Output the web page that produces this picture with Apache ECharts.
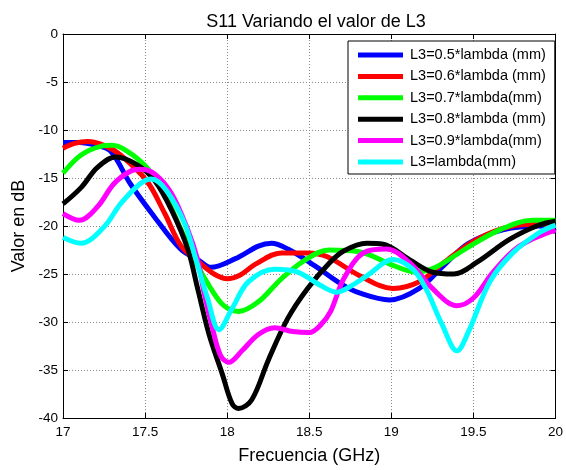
<!DOCTYPE html>
<html>
<head>
<meta charset="utf-8">
<script src="https://cdn.jsdelivr.net/npm/echarts@6/dist/echarts.min.js"></script>
<style>html,body{margin:0;padding:0;background:#fff;}#c{width:566px;height:470px;}</style>
</head>
<body>
<div id="c"></div>
<script>
const titleText = 'S11 Variando el valor de L3';
const xName = 'Frecuencia (GHz)';
const yName = 'Valor en dB';
const seriesNames = ['L3=0.5*lambda (mm)','L3=0.6*lambda (mm)','L3=0.7*lambda(mm)','L3=0.8*lambda (mm)','L3=0.9*lambda(mm)','L3=lambda(mm)'];
const seriesColors = ['#0000ff','#ff0000','#00ff00','#000000','#ff00ff','#00ffff'];

const s05 = [[17,-11.3],[17.1,-11.3],[17.2,-11.6],[17.29,-12.2],[17.41,-15.6],[17.555,-19.0],[17.716,-22.4],[17.83,-23.6],[17.9,-24.3],[18.05,-23.4],[18.19,-22.1],[18.27,-21.8],[18.37,-22.4],[18.53,-24.1],[18.69,-26.0],[18.81,-27.0],[18.99,-27.7],[19.17,-26.5],[19.32,-24.1],[19.47,-21.8],[19.68,-20.4],[19.9,-20.0],[20,-20.6]];
const s06 = [[17,-11.9],[17.07,-11.4],[17.15,-11.2],[17.25,-11.6],[17.35,-12.6],[17.51,-15.3],[17.62,-18.7],[17.72,-22.1],[17.83,-23.8],[17.92,-25.0],[18.0,-25.5],[18.08,-25.1],[18.17,-24.0],[18.33,-22.8],[18.49,-22.8],[18.61,-23.2],[18.81,-25.2],[19.01,-26.5],[19.17,-25.8],[19.32,-23.8],[19.52,-21.4],[19.74,-20.0],[19.92,-19.8],[20,-19.9]];
const s07 = [[17,-14.5],[17.11,-12.6],[17.23,-11.7],[17.3,-11.6],[17.39,-12.2],[17.51,-13.9],[17.62,-16.7],[17.72,-20.4],[17.81,-23.8],[17.9,-26.5],[17.98,-28.3],[18.07,-28.9],[18.19,-27.9],[18.33,-25.5],[18.47,-23.6],[18.62,-22.5],[18.81,-22.7],[19.01,-24.1],[19.15,-24.8],[19.27,-24.3],[19.45,-22.4],[19.66,-20.4],[19.86,-19.4],[20,-19.4]];
const s08 = [[17,-17.7],[17.11,-16.0],[17.21,-13.9],[17.32,-12.8],[17.45,-13.6],[17.56,-15.3],[17.66,-18.3],[17.76,-22.4],[17.82,-26.5],[17.89,-31.3],[17.97,-35.4],[18.03,-38.5],[18.07,-39.0],[18.15,-38.1],[18.25,-34.0],[18.37,-29.6],[18.49,-26.5],[18.62,-23.9],[18.71,-22.6],[18.85,-21.8],[18.95,-21.9],[19.11,-23.5],[19.25,-24.8],[19.38,-25.0],[19.52,-23.8],[19.72,-21.4],[19.9,-19.9],[20,-19.5]];
const s09 = [[17,-18.7],[17.1,-19.4],[17.21,-18.0],[17.31,-15.6],[17.41,-14.3],[17.47,-14.1],[17.56,-14.6],[17.66,-16.6],[17.76,-20.4],[17.82,-23.5],[17.86,-27.0],[17.91,-30.6],[17.96,-33.5],[18.01,-34.2],[18.09,-33.0],[18.19,-31.3],[18.29,-30.6],[18.4,-31.0],[18.5,-31.1],[18.57,-30.3],[18.63,-28.9],[18.71,-25.5],[18.83,-22.8],[18.97,-22.4],[19.11,-23.8],[19.25,-26.5],[19.4,-28.3],[19.5,-27.5],[19.62,-24.8],[19.78,-22.1],[20,-20.4]];
const s10 = [[17,-21.2],[17.11,-21.8],[17.25,-20.1],[17.35,-17.7],[17.47,-15.6],[17.54,-15.1],[17.63,-16.3],[17.74,-19.7],[17.81,-23.5],[17.88,-27.5],[17.95,-30.8],[18.03,-28.6],[18.13,-25.8],[18.29,-24.5],[18.43,-24.8],[18.57,-26.2],[18.67,-26.9],[18.75,-26.3],[18.85,-25.2],[19.01,-23.5],[19.13,-24.5],[19.21,-26.5],[19.31,-30.3],[19.4,-33.0],[19.47,-31.0],[19.6,-25.8],[19.74,-22.8],[19.9,-20.7],[20,-19.9]];
const seriesData = [s05,s06,s07,s08,s09,s10];

const xMin = 17, xMax = 20, xStep = 0.5;
const yMin = -40, yMax = 0, yStep = 5;

const font = 'Liberation Sans, Arial, sans-serif';
const chart = echarts.init(document.getElementById('c'), null, {renderer:'canvas'});

const gridLine = {show:true, lineStyle:{color:'#8a8a8a', type:[1,2], width:1}};
const axisLine = {show:true, onZero:false, lineStyle:{color:'#000', width:1}};
const tick = {show:true, inside:true, length:5, lineStyle:{color:'#000'}};

chart.setOption({
  backgroundColor:'#fff',
  animation:false,
  title:{text:titleText, left:311, top:8, textAlign:'center',
    textStyle:{fontFamily:font, fontSize:18, fontWeight:'normal', color:'#000'}},
  grid:{left:63, right:6, top:34, bottom:45, containLabel:false},
  legend:{
    orient:'vertical', left:348, top:41,
    padding:[6,7,4,10], itemGap:5.4,
    backgroundColor:'#fff', borderColor:'#000', borderWidth:1,
    itemWidth:45, itemHeight:5, icon:'rect',
    textStyle:{fontFamily:font, fontSize:14.5, color:'#000', padding:[0,2,0,2], lineHeight:16},
    data:seriesNames
  },
  xAxis:[
    {type:'value', min:xMin, max:xMax, interval:xStep, position:'bottom',
     axisLine:axisLine, axisTick:tick, splitLine:gridLine,
     axisLabel:{fontFamily:font, fontSize:13.5, color:'#000', margin:7,
       formatter:v=>String(v)},
     name:xName, nameLocation:'middle', nameGap:29,
     nameTextStyle:{fontFamily:font, fontSize:18, color:'#000'}},
    {type:'value', min:xMin, max:xMax, interval:xStep, position:'top',
     axisLine:axisLine, axisTick:tick, splitLine:{show:false}, axisLabel:{show:false}}
  ],
  yAxis:[
    {type:'value', min:yMin, max:yMax, interval:yStep, position:'left',
     axisLine:axisLine, axisTick:tick, splitLine:gridLine,
     axisLabel:{fontFamily:font, fontSize:13.5, color:'#000', margin:5},
     name:yName, nameLocation:'middle', nameGap:33, nameRotate:90,
     nameTextStyle:{fontFamily:font, fontSize:18, color:'#000'}},
    {type:'value', min:yMin, max:yMax, interval:yStep, position:'right',
     axisLine:axisLine, axisTick:tick, splitLine:{show:false}, axisLabel:{show:false}}
  ],
  series: seriesData.map((d,i)=>({
    name:seriesNames[i], type:'line', data:d, smooth:0.35,
    showSymbol:false, symbol:'none',
    lineStyle:{color:seriesColors[i], width:5},
    itemStyle:{color:seriesColors[i]},
    xAxisIndex:0, yAxisIndex:0, z:2+i
  }))
});
</script>
</body>
</html>
